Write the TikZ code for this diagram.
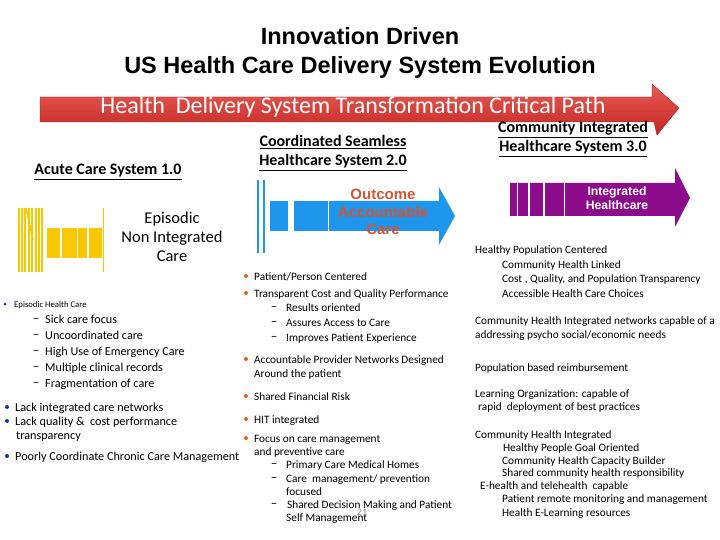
\documentclass[tikz,border=0pt]{standalone}
\usepackage{fontspec}
\setmainfont{Carlito}
\newfontfamily\arialfont{Liberation Sans}
\usetikzlibrary{calc}
\definecolor{pathred}{RGB}{196,38,36}
\definecolor{pathredlight}{RGB}{232,92,84}
\definecolor{carebar}{RGB}{250,200,0}
\definecolor{outcomeblue}{RGB}{30,150,235}
\definecolor{outcometext}{RGB}{214,84,50}
\definecolor{integpurple}{RGB}{140,12,140}
\definecolor{dotblue}{RGB}{30,50,150}
\definecolor{dotorange}{RGB}{222,96,40}

\begin{document}
\begin{tikzpicture}[x=1pt,y=-1pt,
    txt/.style={anchor=base west,inner sep=0pt,font=\fontsize{11.3}{13}\selectfont},
    txtL/.style={anchor=base west,inner sep=0pt,font=\fontsize{12.2}{14}\selectfont},
    head/.style={inner sep=0pt,align=center,font=\fontsize{16}{19}\selectfont},
    dotL/.style={circle,fill=dotblue,inner sep=0pt,minimum size=4pt},
    dotM/.style={circle,fill=dotorange,inner sep=0pt,minimum size=4pt},
    dashmark/.style={anchor=base,inner sep=0pt,font=\fontsize{13}{14}\selectfont}]
    \useasboundingbox (0,0) rectangle (720,540);

    % title
    \node[inner sep=0pt,align=center,font=\arialfont\bfseries\fontsize{23.5}{29}\selectfont] (Title) at (360,53)
        {Innovation Driven\\US Health Care Delivery System Evolution};

    % critical path arrow
    \coordinate (PathStart) at (40,97);
    \coordinate (PathTip) at (679,108);
    \shade[top color=pathredlight,bottom color=pathred,draw=pathred!80!black,line width=0.4pt]
        (PathStart) -- (652,97) -- (652,84) -- (PathTip) -- (657,135) -- (654,122) -- (40,122) -- cycle;
    \node[inner sep=0pt,text=white,font=\fontsize{24}{26}\selectfont] (PathText) at (353,107)
        {Health\ \ Delivery System Transformation Critical Path};

    % system headings
    \node[head] (Sys1) at (108,172) {\textbf{\underline{Acute Care System 1.0}}};
    \node[head] (Sys2) at (333,153) {\textbf{\underline{Coordinated Seamless}}\\\textbf{\underline{Healthcare System 2.0}}};
    \node[head] (Sys3) at (573,139) {\textbf{\underline{Community Integrated}}\\\textbf{\underline{Healthcare System 3.0}}};

    % episodic care glyph
    \foreach \sx in {19,22,25,28.5,32,35.5,39,42}
        \draw[carebar,line width=2pt] (\sx,208) -- (\sx,272);
    \draw[carebar,line width=1.5pt] (26,208) -- (33,240);
    \fill[carebar] (47,228) rectangle (60,258);
    \fill[carebar] (62,228) rectangle (76.5,258);
    \fill[carebar] (78,228) rectangle (87,258);
    \fill[carebar] (88.5,228) rectangle (102,258);
    \draw[carebar,line width=0.8pt] (103.5,208) -- (103.5,272);
    \node[head,font=\fontsize{16.5}{19}\selectfont] (Episodic) at (172,237) {Episodic\\Non Integrated\\Care};

    % outcome accountable glyph
    \draw[outcomeblue,line width=2pt] (258,180) -- (258,253);
    \draw[outcomeblue,line width=2pt] (263.5,180) -- (263.5,253);
    \fill[outcomeblue] (270,201) rectangle (288,231);
    \fill[outcomeblue] (294,201) rectangle (327.5,231);
    \fill[outcomeblue] (329,201) -- (439,201) -- (439,187) -- (455,216) -- (439,245) -- (439,231) -- (329,231) -- cycle;
    \node[inner sep=0pt,align=center,text=outcometext,font=\arialfont\bfseries\fontsize{15}{17.5}\selectfont] (Outcome) at (383,212)
        {Outcome\\Accountable\\Care};

    % integrated healthcare glyph
    \fill[integpurple] (510,183) -- (675,183) -- (675,168) -- (690,198) -- (675,227) -- (675,216) -- (510,216) -- cycle;
    \foreach \gx in {517.5,529,544,564.5}
        \draw[white,line width=1.4pt] (\gx,182) -- (\gx,217);
    \node[inner sep=0pt,align=center,text=white,font=\arialfont\bfseries\fontsize{12.2}{14.5}\selectfont] (Integrated) at (617,198)
        {Integrated\\Healthcare};

    % left column
    \node[dotL,minimum size=3pt] (dL0) at (5,304) {};
    \node[txt,font=\fontsize{8.7}{9}\selectfont] (L0) at (14,307) {Episodic Health Care};
    \node[dashmark] (dash1) at (36,322) {\textendash};
    \node[txtL] (L1) at (45,323) {Sick care focus};
    \node[dashmark] (dash2) at (36,338) {\textendash};
    \node[txtL] (L2) at (45,339) {Uncoordinated care};
    \node[dashmark] (dash3) at (36,354) {\textendash};
    \node[txtL] (L3) at (45,355) {High Use of Emergency Care};
    \node[dashmark] (dash4) at (36,370) {\textendash};
    \node[txtL] (L4) at (45,371) {Multiple clinical records};
    \node[dashmark] (dash5) at (36,386) {\textendash};
    \node[txtL] (L5) at (45,387) {Fragmentation of care};
    \node[dotL] (dL6) at (7,407) {};
    \node[txtL] (L6) at (15,411) {Lack integrated care networks};
    \node[dotL] (dL7) at (7,421) {};
    \node[txtL] (L7) at (15,425) {Lack quality \&\ \ cost performance};
    \node[txtL] (L8) at (16,439) {transparency};
    \node[dotL] (dL9) at (7,456) {};
    \node[txtL] (L9) at (15,460) {Poorly Coordinate Chronic Care Management};

    % middle column
    \node[dotM] (dM1) at (246,276) {};
    \node[txt] (M1) at (254,280) {Patient/Person Centered};
    \node[dotM] (dM2) at (246,293) {};
    \node[txt] (M2) at (254,297) {Transparent Cost and Quality Performance};
    \node[dashmark] (mdash1) at (274,310) {\textendash};
    \node[txt] (M3) at (286,311) {Results oriented};
    \node[dashmark] (mdash2) at (274,325) {\textendash};
    \node[txt] (M4) at (286,326) {Assures Access to Care};
    \node[dashmark] (mdash3) at (274,340) {\textendash};
    \node[txt] (M5) at (286,341) {Improves Patient Experience};
    \node[dotM] (dM6) at (246,359) {};
    \node[txt] (M6) at (254,363) {Accountable Provider Networks Designed};
    \node[txt] (M7) at (254,377) {Around the patient};
    \node[dotM] (dM8) at (246,396) {};
    \node[txt] (M8) at (254,400) {Shared Financial Risk};
    \node[dotM] (dM9) at (246,419) {};
    \node[txt] (M9) at (254,423) {HIT integrated};
    \node[dotM] (dM10) at (246,438) {};
    \node[txt] (M10) at (254,442) {Focus on care management};
    \node[txt] (M11) at (254,455) {and preventive care};
    \node[dashmark] (mdash4) at (274,467) {\textendash};
    \node[txt] (M12) at (286,468) {Primary Care Medical Homes};
    \node[dashmark] (mdash5) at (274,481) {\textendash};
    \node[txt] (M13) at (286,482) {Care\ \ management/ prevention};
    \node[txt] (M14) at (286,495) {focused};
    \node[dashmark] (mdash6) at (274,507) {\textendash};
    \node[txt] (M15) at (287,508) {Shared Decision Making and Patient};
    \node[txt] (M16) at (286,521) {Self Management};
    \node[inner sep=0pt,text=black!45,font=\fontsize{10}{11}\selectfont] (PageNo) at (362,512) {21};

    % right column
    \node[txt] (R1) at (475,253) {Healthy Population Centered};
    \node[txt] (R2) at (502,268) {Community Health Linked};
    \node[txt] (R3) at (502,282) {Cost , Quality, and Population Transparency};
    \node[txt] (R4) at (502,297) {Accessible Health Care Choices};
    \node[txt] (R5) at (475,324) {Community Health Integrated networks capable of a};
    \node[txt] (R6) at (475,338) {addressing psycho social/economic needs};
    \node[txt] (R7) at (475,371) {Population based reimbursement};
    \node[txt] (R8) at (475,397) {Learning Organization: capable of};
    \node[txt] (R9) at (478,410) {rapid\ \ deployment of best practices};
    \node[txt] (R10) at (475,438) {Community Health Integrated};
    \node[txt] (R11) at (503,451) {Healthy People Goal Oriented};
    \node[txt] (R12) at (502,464) {Community Health Capacity Builder};
    \node[txt] (R13) at (502,476) {Shared community health responsibility};
    \node[txt] (R14) at (480,489) {E-health and telehealth\ \ capable};
    \node[txt] (R15) at (502,502) {Patient remote monitoring and management};
    \node[txt] (R16) at (502,516) {Health E-Learning resources};
\end{tikzpicture}
\end{document}
